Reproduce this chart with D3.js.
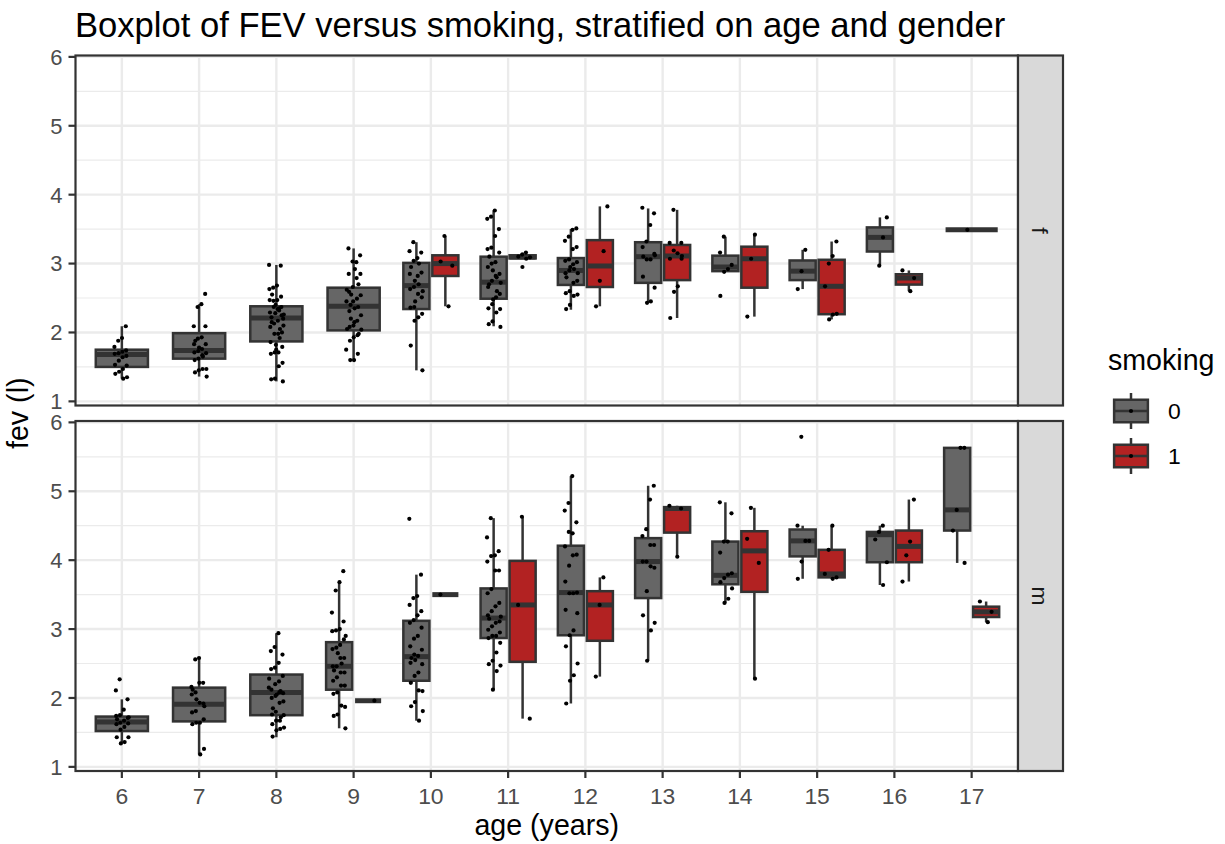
<!DOCTYPE html>
<html><head><meta charset="utf-8">
<script src="https://cdn.jsdelivr.net/npm/d3@7/dist/d3.min.js"></script>
<style>
body{margin:0;background:#fff}
svg{display:block}
text{font-family:"Liberation Sans",Arial,Helvetica,sans-serif}
</style>
</head><body>
<svg id="chart" width="1225" height="844"></svg>
<script>
// ---------------- data ----------------
const ages = ["6","7","8","9","10","11","12","13","14","15","16","17"];
const genders = ["f","m"];
const smokingLevels = ["0","1"];
const yTicks = [1,2,3,4,5,6];

const boxGender  = ["f","f","f","f","f","f","f","f","f","f","f","f","f","f","f","f","f","f","f",
                    "m","m","m","m","m","m","m","m","m","m","m","m","m","m","m","m","m","m","m","m","m"];
const boxAge     = ["6","7","8","9","10","10","11","11","12","12","13","13","14","14","15","15","16","16","17",
                    "6","7","8","9","9","10","10","11","11","12","12","13","13","14","14","15","15","16","16","17","17"];
const boxSmoking = ["0","0","0","0","0","1","0","1","0","1","0","1","0","1","0","1","0","1","0",
                    "0","0","0","0","1","0","1","0","1","0","1","0","1","0","1","0","1","0","1","0","1"];
const whiskerLow  = [1.33,1.36,1.29,1.58,1.45,2.38,2.09,3.07,2.33,2.38,2.44,2.21,2.88,2.23,2.63,2.19,2.97,2.60,3.49,
                     1.34,1.18,1.43,1.56,1.96,1.67,3.50,2.12,1.70,1.92,2.31,2.54,4.05,3.38,2.28,3.73,3.73,3.64,3.69,3.96,3.10];
const q1          = [1.50,1.62,1.87,2.03,2.34,2.82,2.49,3.075,2.69,2.66,2.72,2.76,2.89,2.65,2.76,2.265,3.175,2.695,3.49,
                     1.52,1.66,1.75,2.12,1.96,2.25,3.50,2.87,2.525,2.91,2.83,3.45,4.40,3.65,3.54,4.055,3.75,3.97,3.97,4.43,3.175];
const median      = [1.68,1.74,2.21,2.38,2.68,3.00,2.73,3.095,2.90,2.965,3.10,3.11,2.95,3.07,2.89,2.67,3.38,2.79,3.49,
                     1.65,1.91,2.08,2.46,1.96,2.60,3.50,3.16,3.35,3.53,3.35,3.98,4.75,3.78,4.135,4.28,3.80,4.37,4.20,4.73,3.25];
const q3          = [1.75,1.99,2.38,2.65,3.01,3.12,3.10,3.12,3.08,3.34,3.31,3.27,3.115,3.245,3.045,3.055,3.525,2.845,3.49,
                     1.73,2.15,2.34,2.81,1.96,3.12,3.50,3.59,3.99,4.21,3.55,4.32,4.77,4.27,4.42,4.445,4.15,4.41,4.43,5.63,3.325];
const whiskerHigh = [2.09,2.41,2.98,3.22,3.31,3.40,3.77,3.16,3.50,3.83,3.80,3.78,3.39,3.42,3.20,3.32,3.67,2.90,3.49,
                     1.98,2.58,2.94,3.68,1.96,3.79,3.50,4.61,4.63,5.22,3.75,5.08,4.79,4.84,4.76,4.50,4.50,4.50,4.88,5.63,3.40];

// observed fev values per group (same order as the box arrays)
const fevPoints = [
  [2.09,1.92,1.88,1.79,1.74,1.72,1.70,1.69,1.66,1.64,1.59,1.53,1.52,1.47,1.43,1.40,1.35,1.33],
  [2.56,2.41,2.37,2.09,2.09,1.93,1.91,1.83,1.83,1.76,1.73,1.71,1.70,1.67,1.62,1.60,1.47,1.47,1.45,1.42,1.36,1.65,1.78,1.88],
  [2.98,2.97,2.68,2.65,2.63,2.52,2.47,2.46,2.47,2.37,2.34,2.37,2.29,2.25,2.17,2.13,2.08,2.00,1.98,1.98,1.86,1.79,1.71,1.71,1.69,1.56,1.51,1.33,1.32,1.29,2.32,2.28,2.22,2.20,2.35,2.40,2.15,2.10,1.92,1.82,2.55,2.26,2.05,1.75],
  [3.22,3.12,3.02,3.03,2.85,2.85,2.79,2.66,2.59,2.54,2.49,2.45,2.31,2.25,2.17,2.10,2.08,2.04,1.96,1.93,1.88,1.75,1.69,1.60,1.60,2.45,2.37,2.15,2.40,2.62,2.70,2.35,2.20,2.05,1.98,2.92,2.55],
  [3.31,3.18,3.16,3.08,3.04,2.85,2.87,2.82,2.66,2.63,2.51,2.56,2.37,2.36,2.27,2.22,2.17,1.81,1.45,2.70,2.75,2.95,2.60,3.00,2.45],
  [3.40,3.03,2.97,2.38],
  [3.77,3.68,3.65,3.50,3.40,3.23,3.21,3.16,3.02,3.00,2.95,2.85,2.82,2.75,2.66,2.56,2.51,2.41,2.35,2.34,2.29,2.16,2.12,2.08,2.80,2.90,2.70,2.72,2.60,2.48,3.10],
  [3.16,3.13,3.10,3.09,3.07,2.95],
  [3.51,3.49,3.39,3.33,3.24,3.21,3.06,3.04,3.02,2.99,2.90,2.86,2.75,2.72,2.60,2.57,2.55,2.53,2.40,2.34,2.86,2.92,2.95,2.80],
  [3.83,3.18,2.75,2.38],
  [3.81,3.73,3.56,3.32,3.24,3.14,3.06,3.06,2.81,2.65,2.45,2.43,3.10,3.12],
  [3.78,3.30,3.30,3.15,3.19,3.07,3.07,2.67,2.59,2.21,3.11],
  [3.39,3.16,2.98,2.92,2.88,2.53],
  [3.42,3.07,2.23],
  [3.20,2.89,2.63],
  [3.32,3.11,3.00,2.67,2.27,2.26,2.19],
  [3.67,3.38,2.97],
  [2.90,2.79,2.60],
  [3.49],
  [2.27,2.11,1.98,1.83,1.75,1.74,1.71,1.67,1.64,1.62,1.63,1.58,1.54,1.43,1.43,1.36,1.34,1.69,1.72],
  [2.58,2.56,2.16,2.22,2.22,2.08,2.05,1.92,1.93,1.81,1.79,1.69,1.64,1.64,1.62,1.26,1.18,1.98,2.12,1.88],
  [2.94,2.74,2.68,2.63,2.51,2.44,2.42,2.32,2.24,2.20,2.12,2.07,2.08,2.03,2.00,1.95,1.93,1.80,1.76,1.75,1.67,1.67,1.62,1.57,1.55,1.53,1.44,2.15,2.10,2.05,1.85,2.28,1.72],
  [3.84,3.68,3.56,3.24,3.11,3.00,2.98,2.97,2.85,2.77,2.73,2.71,2.58,2.58,2.46,2.46,2.37,2.37,2.30,2.25,2.18,2.18,2.08,2.06,1.87,1.89,1.76,1.74,1.56,2.50,2.65,2.40,2.90],
  [1.96],
  [4.60,3.79,3.48,3.45,3.35,3.26,3.20,3.13,3.09,3.02,2.90,2.86,2.75,2.70,2.61,2.63,2.51,2.49,2.37,2.32,2.22,2.10,2.11,1.94,1.88,1.81,1.67,2.55,2.58],
  [3.50],
  [4.61,4.33,4.13,4.07,4.06,3.98,3.85,3.85,3.58,3.52,3.38,3.33,3.26,3.20,3.11,3.09,3.04,2.99,2.95,2.90,2.90,2.87,2.80,2.66,2.54,2.49,2.47,2.39,2.12,3.15,3.18],
  [4.63,3.35,1.70],
  [5.22,4.83,4.72,4.55,4.39,4.41,4.20,4.08,4.07,3.92,3.69,3.53,3.52,3.52,3.28,3.23,2.98,2.91,2.75,2.50,2.33,2.25,1.92],
  [3.75,3.35,2.31],
  [5.08,4.88,4.45,4.35,4.22,4.22,3.98,3.98,3.89,3.91,3.55,3.20,3.09,2.98,2.54],
  [4.79,4.75,4.05],
  [4.84,4.68,4.27,4.27,4.11,3.81,3.79,3.74,3.68,3.59,3.44,3.38],
  [4.76,4.31,3.96,2.28],
  [5.79,4.50,4.28,4.28,3.98,3.73],
  [4.50,4.15,3.80,3.75,3.73],
  [4.50,4.41,4.30,3.97,3.64],
  [4.88,4.27,4.07,3.69],
  [5.63,5.63,4.73,4.43,3.96],
  [3.40,3.25,3.10]
];

// ---------------- layout / style ----------------
const W = 1225, H = 844;
const panelLeft = 75.5, panelRight = 1018;
const panelTops = [55.5, 421];
const panelH = 350;
const stripW = 45;
const dark = "#333333";
const fillScale = d3.scaleOrdinal().domain(smokingLevels).range(["#666666", "#B22222"]);

const svg = d3.select("#chart");
svg.append("rect").attr("width", W).attr("height", H).attr("fill", "#fff");

const x = d3.scalePoint().domain(ages).range([panelLeft, panelRight]).padding(0.6);
const step = x.step();
const yScales = panelTops.map(t => d3.scaleLinear().domain([0.94, 6.02]).range([t + panelH, t]));
const minorTicks = d3.range(1.5, 6, 1);

// group geometry (dodge2-like)
const groups = boxAge.map((a, i) => ({i, gender: boxGender[i], age: a, smoking: boxSmoking[i]}));
groups.forEach(g => {
  const n = groups.filter(h => h.gender === g.gender && h.age === g.age).length;
  const k = groups.filter(h => h.gender === g.gender && h.age === g.age && h.i < g.i).length;
  const total = 0.75 * step;
  const slot = total / n;
  g.cx = x(g.age) - total / 2 + slot * (k + 0.5);
  g.w = slot * 0.9;
});

// title
svg.append("text").attr("x", panelLeft - 0.5).attr("y", 37)
  .attr("font-size", 34.6).attr("fill", "#000")
  .text("Boxplot of FEV versus smoking, stratified on age and gender");

genders.forEach((gen, pi) => {
  const top = panelTops[pi];
  const y = yScales[pi];
  const p = svg.append("g");
  p.append("rect").attr("x", panelLeft).attr("y", top).attr("width", panelRight - panelLeft)
    .attr("height", panelH).attr("fill", "#fff");
  // minor grid
  p.selectAll(".mg").data(minorTicks).join("line")
    .attr("x1", panelLeft).attr("x2", panelRight).attr("y1", d => y(d)).attr("y2", d => y(d))
    .attr("stroke", "#EBEBEB").attr("stroke-width", 1.2);
  // major grid
  p.selectAll(".Mg").data(yTicks).join("line")
    .attr("x1", panelLeft).attr("x2", panelRight).attr("y1", d => y(d)).attr("y2", d => y(d))
    .attr("stroke", "#EBEBEB").attr("stroke-width", 2.4);
  p.selectAll(".Mx").data(ages).join("line")
    .attr("x1", d => x(d)).attr("x2", d => x(d)).attr("y1", top).attr("y2", top + panelH)
    .attr("stroke", "#EBEBEB").attr("stroke-width", 2.4);

  const gs = groups.filter(g => g.gender === gen);
  const bg = p.append("g");
  gs.forEach(g => {
    const i = g.i;
    bg.append("line").attr("x1", g.cx).attr("x2", g.cx)
      .attr("y1", y(q3[i])).attr("y2", y(whiskerHigh[i]))
      .attr("stroke", dark).attr("stroke-width", 2.5);
    bg.append("line").attr("x1", g.cx).attr("x2", g.cx)
      .attr("y1", y(q1[i])).attr("y2", y(whiskerLow[i]))
      .attr("stroke", dark).attr("stroke-width", 2.5);
    bg.append("rect").attr("x", g.cx - g.w / 2).attr("width", g.w)
      .attr("y", y(q3[i])).attr("height", Math.max(0, y(q1[i]) - y(q3[i])))
      .attr("fill", fillScale(g.smoking)).attr("stroke", dark).attr("stroke-width", 2.5);
    bg.append("line").attr("x1", g.cx - g.w / 2).attr("x2", g.cx + g.w / 2)
      .attr("y1", y(median[i])).attr("y2", y(median[i]))
      .attr("stroke", dark).attr("stroke-width", 5);
  });
  // jittered points
  const pts = [];
  gs.forEach(g => {
    fevPoints[g.i].forEach((v, j) => {
      const u = ((j + 1) * 0.754877666 + g.i * 0.137) % 1;
      pts.push({x: g.cx + (u - 0.5) * 0.2 * step, v});
    });
  });
  p.selectAll(".pt").data(pts).join("circle")
    .attr("cx", d => d.x).attr("cy", d => y(d.v)).attr("r", 2.1).attr("fill", "#000");

  // border
  p.append("rect").attr("x", panelLeft).attr("y", top).attr("width", panelRight - panelLeft)
    .attr("height", panelH).attr("fill", "none").attr("stroke", dark).attr("stroke-width", 2.2);

  // y axis
  p.selectAll(".yt").data(yTicks).join("line")
    .attr("x1", panelLeft - 7).attr("x2", panelLeft).attr("y1", d => y(d)).attr("y2", d => y(d))
    .attr("stroke", dark).attr("stroke-width", 2.2);
  p.selectAll(".yl").data(yTicks).join("text")
    .attr("x", panelLeft - 13).attr("y", d => y(d)).attr("dy", "0.36em")
    .attr("text-anchor", "end").attr("font-size", 22).attr("fill", "#4D4D4D").text(d => d);

  // strip
  p.append("rect").attr("x", panelRight).attr("y", top).attr("width", stripW).attr("height", panelH)
    .attr("fill", "#D9D9D9").attr("stroke", dark).attr("stroke-width", 2.2);
  p.append("text").attr("transform", `translate(${panelRight + stripW / 2},${top + panelH / 2}) rotate(90)`)
    .attr("text-anchor", "middle").attr("dy", "0.36em").attr("font-size", 22.9).attr("fill", "#1A1A1A")
    .text(gen);
});

// x axis (bottom panel)
const xb = panelTops[1] + panelH;
svg.selectAll(".xt").data(ages).join("line")
  .attr("x1", d => x(d)).attr("x2", d => x(d)).attr("y1", xb).attr("y2", xb + 7)
  .attr("stroke", dark).attr("stroke-width", 2.2);
svg.selectAll(".xl").data(ages).join("text")
  .attr("x", d => x(d)).attr("y", 804).attr("text-anchor", "middle")
  .attr("font-size", 22.9).attr("fill", "#4D4D4D").text(d => d);

// axis titles
svg.append("text").attr("x", (panelLeft + panelRight) / 2).attr("y", 835)
  .attr("text-anchor", "middle").attr("font-size", 28.6).attr("fill", "#000").text("age (years)");
svg.append("text").attr("transform", `translate(28,${(panelTops[0] + panelTops[1] + panelH) / 2}) rotate(-90)`)
  .attr("text-anchor", "middle").attr("font-size", 28.6).attr("fill", "#000").text("fev (l)");

// legend
const lg = svg.append("g");
lg.append("text").attr("x", 1108).attr("y", 370).attr("font-size", 28.6).attr("fill", "#000").text("smoking");
const keySize = 45, keyX = 1108.5, keyY0 = 388.5;
smokingLevels.forEach((s, k) => {
  const ky = keyY0 + k * keySize;
  const cx = keyX + keySize / 2;
  lg.append("line").attr("x1", cx).attr("x2", cx).attr("y1", ky + 0.1 * keySize).attr("y2", ky + 0.9 * keySize)
    .attr("stroke", dark).attr("stroke-width", 2.5);
  lg.append("rect").attr("x", keyX + 0.125 * keySize).attr("y", ky + 0.25 * keySize)
    .attr("width", 0.75 * keySize).attr("height", 0.5 * keySize)
    .attr("fill", fillScale(s)).attr("stroke", dark).attr("stroke-width", 2.5);
  lg.append("line").attr("x1", keyX + 0.125 * keySize).attr("x2", keyX + 0.875 * keySize)
    .attr("y1", ky + keySize / 2).attr("y2", ky + keySize / 2)
    .attr("stroke", dark).attr("stroke-width", 2.5);
  lg.append("circle").attr("cx", cx).attr("cy", ky + keySize / 2).attr("r", 2.1).attr("fill", "#000");
  lg.append("text").attr("x", 1168).attr("y", ky + keySize / 2).attr("dy", "0.36em")
    .attr("font-size", 22.9).attr("fill", "#000").text(s);
});
</script>
</body></html>
